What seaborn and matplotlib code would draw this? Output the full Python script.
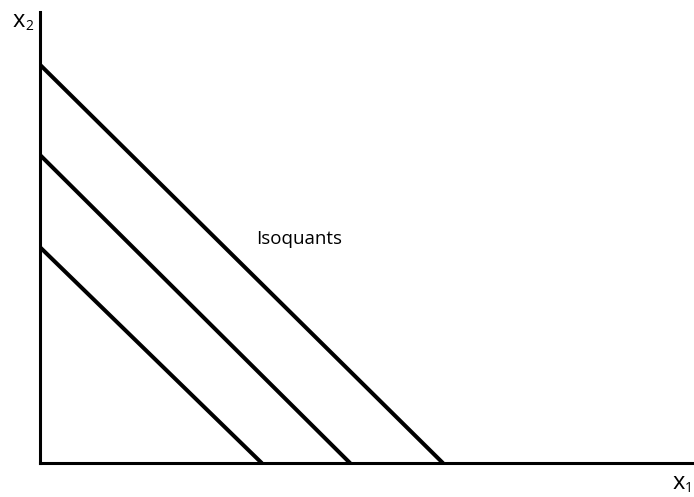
import matplotlib
matplotlib.use("Agg")
import matplotlib.pyplot as plt
import seaborn as sns
import pandas as pd

# Isoquant levels: intercepts on the x1 and x2 axes
levels = ["q1", "q2", "q3"]
x1_intercepts = [3.39, 4.74, 6.16]
x2_intercepts = [3.30, 4.71, 6.09]

label_text = "Isoquants"
x1_label = "x"
x2_label = "x"

rows = []
for name, a, b in zip(levels, x1_intercepts, x2_intercepts):
    rows.append({"level": name, "x1": 0.0, "x2": b})
    rows.append({"level": name, "x1": a, "x2": 0.0})
df = pd.DataFrame(rows)

sns.set_theme(style="white")
plt.rcParams["font.family"] = ["Open Sans", "DejaVu Sans"]

fig = plt.figure(figsize=(6.94, 4.97), dpi=100)
ax = fig.add_axes([40 / 694, 34 / 497, 654 / 694, 451 / 497])

sns.lineplot(data=df, x="x1", y="x2", units="level", estimator=None,
             color="black", linewidth=2.9, ax=ax, legend=False, sort=False)

ax.set_xlim(0, 654 / 65.4)
ax.set_ylim(0, 451 / 65.4)
ax.set_xticks([])
ax.set_yticks([])
ax.set_xlabel("")
ax.set_ylabel("")
for side in ["top", "right"]:
    ax.spines[side].set_visible(False)
for side in ["left", "bottom"]:
    ax.spines[side].set_color("black")
    ax.spines[side].set_linewidth(2.2)

ax.text(3.30, 3.42, label_text, fontsize=13.5, color="black",
        ha="left", va="center")

fig.text(13 / 694, 1 - 21 / 497, x2_label, fontsize=17, ha="left",
         va="center", color="black")
fig.text(25 / 694, 1 - 27 / 497, "2", fontsize=10, ha="left",
         va="center", color="black")
fig.text(673 / 694, 1 - 483 / 497, x1_label, fontsize=17, ha="left",
         va="center", color="black")
fig.text(685 / 694, 1 - 489 / 497, "1", fontsize=10, ha="left",
         va="center", color="black")

fig.savefig("out.png", dpi=100, facecolor="white")
